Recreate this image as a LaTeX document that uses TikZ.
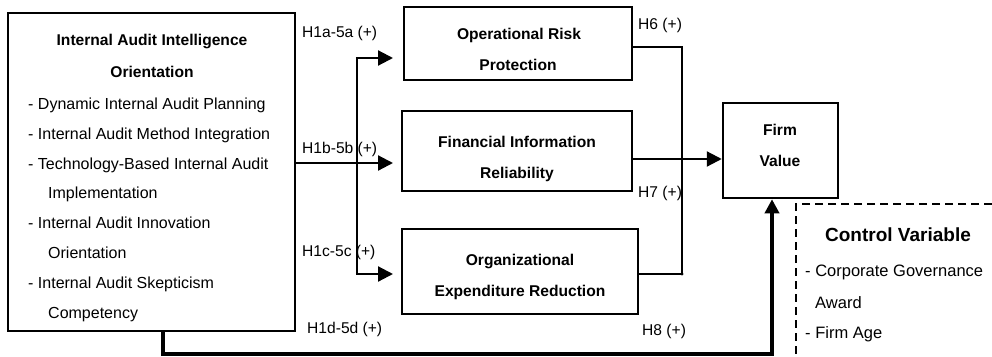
\documentclass[tikz,border=0pt]{standalone}
\usepackage{fontspec}
\setmainfont{Liberation Sans}
\usetikzlibrary{arrows.meta}
\newcommand{\fsreg}{\fontsize{16}{18}\selectfont}
\newcommand{\fslab}{\fontsize{15.6}{18}\selectfont}
\newcommand{\fscv}{\fontsize{16.5}{18}\selectfont}
\newcommand{\fsbold}{\fontsize{15.6}{18}\selectfont\bfseries}
\newcommand{\fsbig}{\fontsize{19}{22}\selectfont\bfseries}
\tikzset{
  box/.style={draw, line width=2.5pt, inner sep=0pt, rectangle},
  txt/.style={inner sep=0pt, anchor=base west, font=\fsreg},
  lab/.style={inner sep=0pt, anchor=base west, font=\fslab},
  cvtxt/.style={inner sep=0pt, anchor=base west, font=\fscv},
  ctxt/.style={inner sep=0pt, anchor=base, font=\fsbold},
  conn/.style={line width=2.2pt},
  arr/.style={line width=2.2pt, -{Triangle[length=15pt,width=15pt]}},
  thick arr/.style={line width=4pt, -{Triangle[length=14pt,width=14pt]}},
  dash line/.style={line width=2.5pt, dash pattern=on 8pt off 5pt}
}
\begin{document}
\begin{tikzpicture}[x=1pt,y=-1pt]
\useasboundingbox (0,0) rectangle (992,356);
% boxes
\node[box, minimum width=287pt, minimum height=318pt] (iai) at (151.5,172) {};
\node[box, minimum width=228pt, minimum height=73pt] (orp) at (518,43.5) {};
\node[box, minimum width=230pt, minimum height=80pt] (fir) at (517,151) {};
\node[box, minimum width=236pt, minimum height=85pt] (oer) at (520,271.5) {};
\node[box, minimum width=115pt, minimum height=95pt] (fv) at (780.5,150.5) {};
% left box text
\node[ctxt] (t1) at (152,45) {Internal Audit Intelligence};
\node[ctxt] (t2) at (152,77) {Orientation};
\node[txt] (i1) at (28,109) {- Dynamic Internal Audit Planning};
\node[txt] (i2) at (28,139) {- Internal Audit Method Integration};
\node[txt] (i3) at (28,169) {- Technology-Based Internal Audit};
\node[txt] (i3b) at (48,198) {Implementation};
\node[txt] (i4) at (28,228) {- Internal Audit Innovation};
\node[txt] (i4b) at (48,258) {Orientation};
\node[txt] (i5) at (28,288) {- Internal Audit Skepticism};
\node[txt] (i5b) at (48,318) {Competency};
% middle box text
\node[ctxt] (o1) at (519,39) {Operational Risk};
\node[ctxt] (o2) at (518,70) {Protection};
\node[ctxt] (f1) at (517,147) {Financial Information};
\node[ctxt] (f2) at (517,178) {Reliability};
\node[ctxt] (r1) at (520,265) {Organizational};
\node[ctxt] (r2) at (520,296) {Expenditure Reduction};
\node[ctxt] (v1) at (780,135) {Firm};
\node[ctxt] (v2) at (780,166) {Value};
% labels
\node[lab] (h1a) at (302,37) {H1a-5a (+)};
\node[lab] (h1b) at (302,153) {H1b-5b (+)};
\node[lab] (h1c) at (302,256) {H1c-5c (+)};
\node[lab] (h1d) at (307,333) {H1d-5d (+)};
\node[lab] (h6) at (638,29) {H6 (+)};
\node[lab] (h7) at (638,197) {H7 (+)};
\node[lab] (h8) at (642,335) {H8 (+)};
% control variable
\node[inner sep=0pt, anchor=base, font=\fsbig] (cv) at (898,241) {Control Variable};
\node[cvtxt] (c1) at (805,276) {- Corporate Governance};
\node[cvtxt] (c2) at (815,308) {Award};
\node[cvtxt] (c3) at (805,338) {- Firm Age};
\draw[dash line] (992,204) -- (796,204) -- (796,356);
% coordinates
\coordinate (sTop) at (357,58);
\coordinate (sBot) at (357,274);
\coordinate (eTop) at (393,58);
\coordinate (eMid) at (393,163);
\coordinate (eBot) at (393,274);
\coordinate (jTop) at (682,47);
\coordinate (jBot) at (682,274);
% left connectors
\draw[arr] (iai.east |- eMid) -- (eMid);
\draw[conn] (sBot) -- (sTop);
\draw[arr] ([xshift=-1.1pt]sTop) -- (eTop);
\draw[arr] ([xshift=-1.1pt]sBot) -- (eBot);
% right connectors
\draw[conn] (orp.east |- jTop) -- (jTop) -- (jBot) -- (oer.east |- jBot);
\fill (jBot) circle (1.6pt);
\draw[arr] (fir.east |- 0,159) -- (fv.west |- 0,159);
% bottom thick connector
\draw[thick arr, line join=miter] (163,331) -- (163,354) -- (772,354) -- (fv.south -| 772,0);
\end{tikzpicture}
\end{document}
